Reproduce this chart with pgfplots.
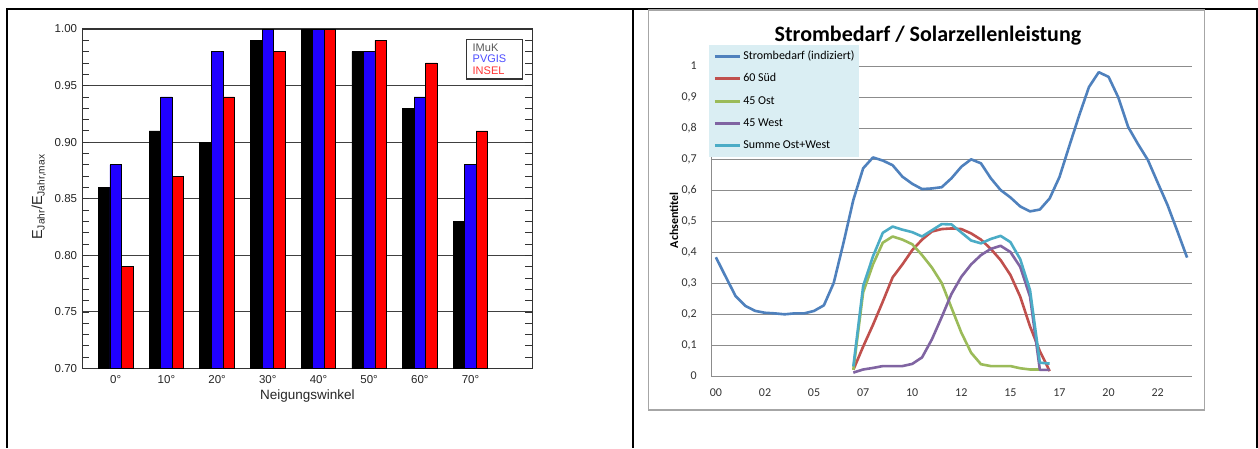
\documentclass[border=0pt]{standalone}
\usepackage{pgfplots}
\pgfplotsset{compat=1.18}
\usepackage{fontspec}
\setmainfont{Liberation Sans}
\newfontfamily\carlito{Carlito}
\definecolor{xlblue}{HTML}{4F81BD}
\definecolor{xlred}{HTML}{C0504D}
\definecolor{xlgreen}{HTML}{9BBB59}
\definecolor{xlpurple}{HTML}{8064A2}
\definecolor{xlcyan}{HTML}{4BACC6}
\definecolor{legbg}{HTML}{DAEEF3}
\definecolor{barblue}{HTML}{2000FF}
\definecolor{barred}{HTML}{FF0000}
\begin{document}
\begin{tikzpicture}
\useasboundingbox (0pt,0pt) rectangle (1258pt,448pt);
\fill[white] (0pt,0pt) rectangle (1258pt,448pt);
% table borders
\draw[line width=2pt] (6pt,439pt) -- (1257.7pt,439pt);
\draw[line width=1.5pt] (7pt,439pt) -- (7pt,0pt);
\draw[line width=2pt] (633.3pt,439pt) -- (633.3pt,0pt);
\draw[line width=2pt] (1256.7pt,439pt) -- (1256.7pt,0pt);
\draw[draw=black!35, line width=1.2pt] (648.3pt,438pt) rectangle (1204.3pt,38pt);

% ---------------- left chart ----------------
\begin{axis}[
  at={(82.3pt,79.5pt)}, anchor=south west, scale only axis,
  width=450pt, height=339.5pt,
  xmin=-6.6, xmax=82.2, ymin=0.70, ymax=1.00,
  axis line style={black!80, line width=1.2pt},
  xtick={0,10,20,30,40,50,60,70},
  xticklabels={0°,10°,20°,30°,40°,50°,60°,70°},
  minor xtick={2.5,12.5,22.5,32.5,42.5,52.5,62.5,72.5},
  xtick pos=lower,
  ytick={0.70,0.75,0.80,0.85,0.90,0.95,1.00},
  yticklabels={0.70,0.75,0.80,0.85,0.90,0.95,1.00},
  minor y tick num=4,
  tick align=inside, major tick length=7pt, minor tick length=7pt,
  tick style={black!80, line width=0.8pt},
  ymajorgrids, major grid style={black!75, line width=1pt},
  ticklabel style={font=\fontsize{11.5}{13}\selectfont, text=black!85},
  yticklabel style={inner sep=0pt, xshift=-5pt},
  xticklabel style={inner sep=0pt, yshift=-6.5pt},
  xlabel={Neigungswinkel},
  every axis x label/.style={at={(axis description cs:0.5,-0.081)}, anchor=center, font=\fontsize{13.5}{15}\selectfont, text=black!85},
  ylabel={E\textsubscript{Jahr}/E\textsubscript{Jahr,max}},
  every axis y label/.style={at={(axis description cs:-0.0967,0.505)}, rotate=90, anchor=center, font=\fontsize{14.5}{16}\selectfont, text=black!85},
]
\addplot[ybar, bar width=2.27, bar shift=-2.27, fill=black, draw=black, line width=0.7pt]
  coordinates {(0,0.86) (10,0.91) (20,0.90) (30,0.99) (40,1.00) (50,0.98) (60,0.93) (70,0.83)};
\addplot[ybar, bar width=2.27, bar shift=0, fill=barblue, draw=black, line width=0.7pt]
  coordinates {(0,0.88) (10,0.94) (20,0.98) (30,1.00) (40,1.00) (50,0.98) (60,0.94) (70,0.88)};
\addplot[ybar, bar width=2.27, bar shift=2.27, fill=barred, draw=black, line width=0.7pt]
  coordinates {(0,0.79) (10,0.87) (20,0.94) (30,0.98) (40,1.00) (50,0.99) (60,0.97) (70,0.91)};
\node[draw=black!80, line width=1.2pt, fill=white, minimum width=56pt, minimum height=39.7pt,
      inner sep=0pt, text width=44pt, align=left, font=\fontsize{11}{11.6}\selectfont]
  at (axis description cs:0.9164,0.911)
  {\textcolor{black!65}{IMuK}\\\textcolor{blue!70!white}{PVGIS}\\\textcolor{red!80!white}{INSEL}};
\end{axis}

% ---------------- right chart ----------------
\begin{axis}[
  at={(711pt,72pt)}, anchor=south west, scale only axis,
  width=481pt, height=310pt,
  xmin=-0.5, xmax=48.5, ymin=0, ymax=1,
  axis lines*=left,
  axis line style={-, draw=black!45, line width=1pt},
  xtick={0,5,10,15,20,25,30,35,40,45},
  xticklabels={00,02,05,07,10,12,15,17,20,22},
  ytick={0,0.1,0.2,0.3,0.4,0.5,0.6,0.7,0.8,0.9,1},
  yticklabels={0,{0,1},{0,2},{0,3},{0,4},{0,5},{0,6},{0,7},{0,8},{0,9},1},
  major tick length=0pt, tick style={draw=none},
  ymajorgrids, major grid style={draw=black!45, line width=1pt},
  ticklabel style={font=\carlito\fontsize{12}{14}\selectfont, text=black!80},
  yticklabel style={inner sep=0pt, xshift=-14pt},
  xticklabel style={inner sep=0pt, yshift=-13pt},
  title={Strombedarf / Solarzellenleistung},
  title style={at={(axis description cs:0.451,1.077)}, anchor=center, yshift=0pt, font=\carlito\bfseries\fontsize{22}{26}\selectfont},
  ylabel={Achsentitel},
  every axis y label/.style={at={(axis description cs:-0.077,0.503)}, rotate=90, anchor=center, font=\carlito\bfseries\fontsize{12}{14}\selectfont},
  every axis plot/.append style={line width=2.6pt, line join=round},
  legend image code/.code={\draw[#1, line width=3pt] (0pt,0pt) -- (25.5pt,0pt);},
  legend cell align=left,
  legend style={draw=none, fill=legbg, at={(-0.004,1.068)}, anchor=north west,
    font=\carlito\fontsize{12}{14}\selectfont, row sep=11.3pt, column sep=1.5pt,
    inner xsep=4pt, inner ysep=6pt,
    nodes={inner sep=0pt, text height=8.5pt, text depth=2.5pt}},
]
\addplot[xlblue] coordinates {
(0,0.383) (1,0.32) (2,0.258) (3,0.226) (4,0.21) (5,0.204) (6,0.202) (7,0.199) (8,0.202) (9,0.202)
(10,0.21) (11,0.228) (12,0.30) (13,0.43) (14,0.568) (15,0.67) (16,0.705) (17,0.695) (18,0.68) (19,0.643)
(20,0.62) (21,0.603) (22,0.605) (23,0.609) (24,0.638) (25,0.675) (26,0.699) (27,0.686) (28,0.638) (29,0.60)
(30,0.576) (31,0.547) (32,0.531) (33,0.537) (34,0.573) (35,0.642) (36,0.742) (37,0.84) (38,0.932) (39,0.98)
(40,0.965) (41,0.898) (42,0.803) (43,0.748) (44,0.697) (45,0.624) (46,0.552) (47,0.468) (48,0.382)};
\addlegendentry{Strombedarf (indiziert)\hspace{4pt}}
\addplot[xlred] coordinates {
(14,0.02) (15,0.095) (16,0.165) (17,0.24) (18,0.318) (19,0.36) (20,0.406) (21,0.44) (22,0.466) (23,0.474)
(24,0.476) (25,0.474) (26,0.46) (27,0.44) (28,0.41) (29,0.374) (30,0.326) (31,0.256) (32,0.16) (33,0.08) (34,0.016)};
\addlegendentry{60 Süd}
\addplot[xlgreen] coordinates {
(14,0.02) (15,0.27) (16,0.36) (17,0.43) (18,0.45) (19,0.44) (20,0.425) (21,0.39) (22,0.35) (23,0.30)
(24,0.22) (25,0.14) (26,0.075) (27,0.038) (28,0.032) (29,0.032) (30,0.032) (31,0.025) (32,0.021) (33,0.021)};
\addlegendentry{45 Ost}
\addplot[xlpurple] coordinates {
(14,0.011) (15,0.021) (16,0.026) (17,0.032) (18,0.032) (19,0.032) (20,0.039) (21,0.06) (22,0.118) (23,0.19)
(24,0.265) (25,0.32) (26,0.36) (27,0.39) (28,0.41) (29,0.42) (30,0.40) (31,0.352) (32,0.256) (33,0.02) (34,0.02)};
\addlegendentry{45 West}
\addplot[xlcyan] coordinates {
(14,0.031) (15,0.29) (16,0.386) (17,0.462) (18,0.482) (19,0.472) (20,0.464) (21,0.45) (22,0.47) (23,0.49)
(24,0.489) (25,0.463) (26,0.437) (27,0.428) (28,0.442) (29,0.452) (30,0.432) (31,0.377) (32,0.277) (33,0.043) (34,0.04)};
\addlegendentry{Summe Ost+West}
\end{axis}
\end{tikzpicture}
\end{document}
